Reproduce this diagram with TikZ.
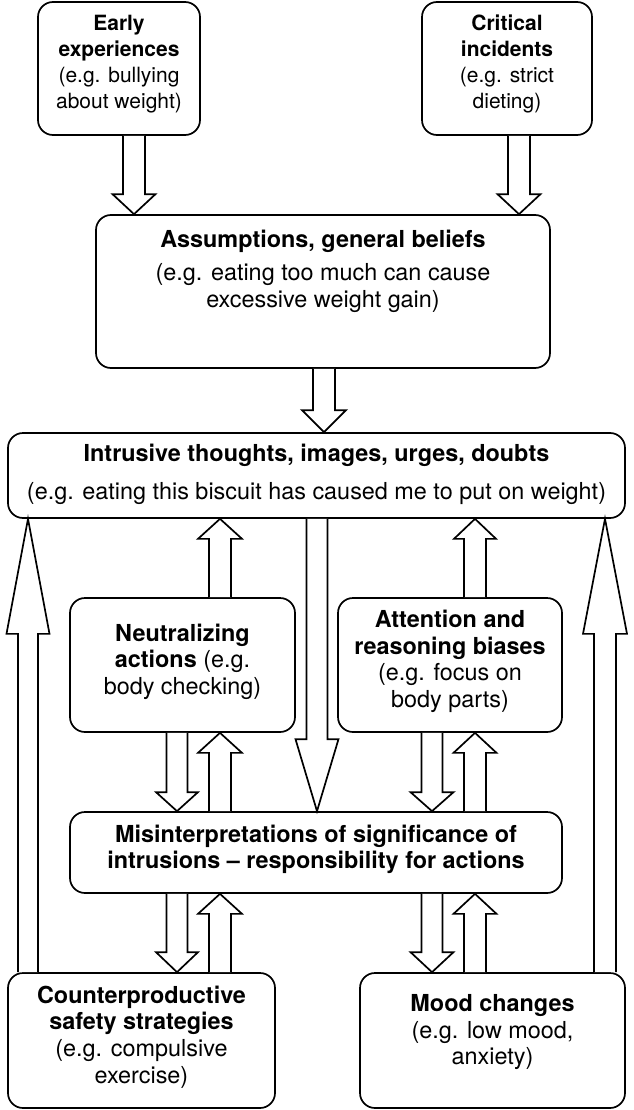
\documentclass[tikz,border=0pt]{standalone}
\usepackage{fontspec}
\setmainfont{TeX Gyre Heros}
\usetikzlibrary{calc}
\tikzset{
  box/.style={draw, line width=1.7pt, rounded corners=15pt, inner sep=0pt},
  txt/.style={align=center, inner sep=0pt, font=\fontsize{23.4}{26.5}\selectfont},
  smalltxt/.style={align=center, inner sep=0pt, font=\fontsize{21}{26}\selectfont},
  blk/.style={draw, line width=1.7pt, fill=white, line join=miter},
}
\newcommand\varrow[6]{%
  \draw[blk] let \p1=(#2), \p2=(#3), \n1={\y2-sign(\y2-\y1)*#4pt} in
    ({(#1-#5)*1pt},\y1) -- ({(#1-#5)*1pt},\n1) -- ({(#1-#6)*1pt},\n1)
    -- ({#1*1pt},\y2) -- ({(#1+#6)*1pt},\n1) -- ({(#1+#5)*1pt},\n1)
    -- ({(#1+#5)*1pt},\y1);}
\begin{document}
\begin{tikzpicture}[x=1pt,y=-1pt]
\useasboundingbox (0,0) rectangle (633,1110);
% boxes
\node[box, minimum width=162pt, minimum height=133pt] (early) at (119,68.5) {};
\node[smalltxt] (earlyT) at ($(early.center)+(0,-4.5)$)
  {\textbf{Early}\\\textbf{experiences}\\(e.g. bullying\\about weight)};
\node[box, minimum width=170pt, minimum height=133pt] (critical) at (507,68.5) {};
\node[smalltxt] (criticalT) at ($(critical.center)+(0,-4.5)$)
  {\textbf{Critical}\\\textbf{incidents}\\(e.g. strict\\dieting)};
\node[box, minimum width=454pt, minimum height=153pt] (assump) at (323,291.5) {};
\node[txt] (assumpT) at ($(assump.center)+(0,-20)$)
  {\textbf{Assumptions, general beliefs}\\[6.5pt](e.g. eating too much can cause\\excessive weight gain)};
\node[box, minimum width=617pt, minimum height=85pt] (intr) at (316.5,475.5) {};
\node[txt] (intrT) at ($(intr.center)+(0,-1.5)$)
  {\textbf{Intrusive thoughts, images, urges, doubts}\\[11.5pt](e.g. eating this biscuit has caused me to put on weight)};
\node[box, minimum width=225pt, minimum height=134pt] (neut) at (182.5,665) {};
\node[txt] (neutT) at ($(neut.center)+(0,-3.5)$)
  {\textbf{Neutralizing}\\\textbf{actions} (e.g.\\body checking)};
\node[box, minimum width=224pt, minimum height=134pt] (attn) at (450,665) {};
\node[txt] (attnT) at ($(attn.center)+(0,-3.5)$)
  {\textbf{Attention and}\\\textbf{reasoning biases}\\(e.g. focus on\\body parts)};
\node[box, minimum width=492pt, minimum height=81pt] (mis) at (316,852.5) {};
\node[txt] (misT) at ($(mis.center)+(0,-3)$)
  {\textbf{Misinterpretations of significance of}\\\textbf{intrusions – responsibility for actions}};
\node[box, minimum width=267pt, minimum height=135pt] (counter) at (141.5,1040.5) {};
\node[txt] (counterT) at ($(counter.center)+(0,-3.5)$)
  {\textbf{Counterproductive}\\\textbf{safety strategies}\\(e.g. compulsive\\exercise)};
\node[box, minimum width=265pt, minimum height=135pt] (mood) at (492.5,1040.5) {};
\node[txt] (moodT) at ($(mood.center)+(0,-8)$)
  {\textbf{Mood changes}\\(e.g. low mood,\\anxiety)};
% block arrows
\varrow{134}{early.south}{assump.north}{20}{11}{21.5}
\varrow{519}{critical.south}{assump.north}{20}{11}{21.5}
\varrow{324}{assump.south}{intr.north}{22}{11}{22}
\varrow{28}{counter.north}{intr.south}{115}{10}{21.5}
\varrow{605}{mood.north}{intr.south}{115}{11}{22}
\varrow{317}{intr.south}{mis.north}{72}{10.5}{21.5}
\varrow{220}{neut.north}{intr.south}{20}{11}{22}
\varrow{475}{attn.north}{intr.south}{20}{11}{21}
\varrow{177}{neut.south}{mis.north}{19}{10.5}{21}
\varrow{220}{mis.north}{neut.south}{20}{11}{22}
\varrow{432}{attn.south}{mis.north}{19}{10.5}{21.5}
\varrow{475}{mis.north}{attn.south}{20}{11}{21.5}
\varrow{177}{mis.south}{counter.north}{20}{10.5}{21}
\varrow{220}{counter.north}{mis.south}{20}{11}{22}
\varrow{432}{mis.south}{mood.north}{20}{10.5}{21.5}
\varrow{475}{mood.north}{mis.south}{20}{11}{21.5}
\end{tikzpicture}
\end{document}
